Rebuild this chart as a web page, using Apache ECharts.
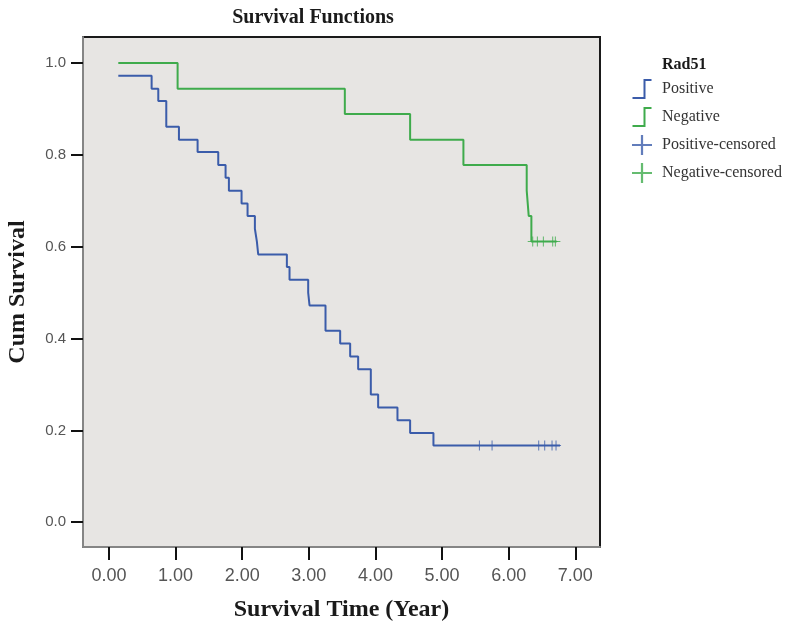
<!DOCTYPE html>
<html>
<head>
<meta charset="utf-8">
<script src="https://cdn.jsdelivr.net/npm/echarts@6/dist/echarts.min.js"></script>
<style>html,body{margin:0;padding:0;background:#fff}#c{width:800px;height:624px}</style>
</head>
<body>
<div id="c"></div>
<script>
// Positive (blue) Kaplan-Meier curve: event times (years) and survival after each
const posTimes = [0.14, 0.64, 0.74, 0.86, 1.05, 1.33, 1.64, 1.75, 1.80, 1.99, 2.08, 2.19, 2.22, 2.24, 2.67, 2.71, 2.99, 3.01, 3.25, 3.47, 3.62, 3.74, 3.93, 4.04, 4.33, 4.52, 4.87, 6.77];
const posSurv  = [0.972, 0.944, 0.917, 0.861, 0.833, 0.806, 0.778, 0.750, 0.722, 0.694, 0.667, 0.639, 0.611, 0.583, 0.556, 0.528, 0.500, 0.472, 0.417, 0.389, 0.361, 0.333, 0.278, 0.250, 0.222, 0.194, 0.167, 0.167];
const posCensorTimes = [5.56, 5.75, 6.45, 6.54, 6.65, 6.71];
const posCensorSurv  = [0.167, 0.167, 0.167, 0.167, 0.167, 0.167];

// Negative (green) curve
const negTimes = [0.14, 1.03, 3.54, 4.52, 5.32, 6.27, 6.30, 6.34, 6.72];
const negSurv  = [1.000, 0.944, 0.889, 0.833, 0.778, 0.722, 0.667, 0.611, 0.611];
const negCensorTimes = [6.36, 6.43, 6.52, 6.66, 6.70];
const negCensorSurv  = [0.611, 0.611, 0.611, 0.611, 0.611];

const xTicks = [0, 1, 2, 3, 4, 5, 6, 7];
const yTicks = [0, 0.2, 0.4, 0.6, 0.8, 1.0];

const seriesNames = ['Positive', 'Negative', 'Positive-censored', 'Negative-censored'];

const BLUE = '#3b5caa';
const GREEN = '#3fab4c';
const zip = (a, b) => a.map((v, i) => [v, b[i]]);

const stepIcon = 'path://M0,18 L11,18 L11,0 L19,0 L19,2 L13,2 L13,20 L0,20 Z';
const plusIcon = 'path://M8,0 L10,0 L10,8 L18,8 L18,10 L10,10 L10,18 L8,18 L8,10 L0,10 L0,8 L8,8 Z';
const plusMark = 'path://M9,0 L11,0 L11,9 L20,9 L20,11 L11,11 L11,20 L9,20 L9,11 L0,11 L0,9 L9,9 Z';

const chart = echarts.init(document.getElementById('c'), null, {renderer: 'canvas'});
chart.setOption({
  animation: false,
  backgroundColor: '#ffffff',
  title: [
    {text: 'Survival Functions', left: 308, top: 3, textAlign: 'center',
     textStyle: {fontFamily: 'Liberation Serif', fontWeight: 'bold', fontSize: 20, color: '#1a1a1a'}},
    {text: 'Rad51', left: 657, top: 52,
     textStyle: {fontFamily: 'Liberation Serif', fontWeight: 'bold', fontSize: 16, color: '#1a1a1a'}}
  ],
  legend: {
    orient: 'vertical', left: 627, top: 74,
    itemWidth: 20, itemHeight: 20, itemGap: 8,
    textStyle: {fontFamily: 'Liberation Serif', fontSize: 16, color: '#333', padding: [0, 0, 0, 5]},
    data: [
      {name: seriesNames[0], icon: stepIcon, itemStyle: {color: BLUE}},
      {name: seriesNames[1], icon: stepIcon, itemStyle: {color: GREEN}},
      {name: seriesNames[2], icon: plusIcon, itemStyle: {color: BLUE}},
      {name: seriesNames[3], icon: plusIcon, itemStyle: {color: GREEN}}
    ]
  },
  grid: {left: 83, right: 200, top: 37, bottom: 77, show: true, outerBoundsMode: 'none', containLabel: false,
         backgroundColor: '#e7e5e3', borderColor: '#1a1a1a', borderWidth: 2},
  xAxis: {
    type: 'value', min: -0.39, max: 7.37,
    name: 'Survival Time (Year)', nameLocation: 'middle', nameGap: 51,
    nameTextStyle: {fontFamily: 'Liberation Serif', fontWeight: 'bold', fontSize: 24, color: '#1a1a1a'},
    axisLine: {show: true, onZero: false, lineStyle: {color: '#858585', width: 2}},
    axisTick: {show: true, length: 13, customValues: xTicks, lineStyle: {color: '#111', width: 2}},
    axisLabel: {customValues: xTicks, margin: 20, fontFamily: 'Liberation Sans', fontSize: 18, color: '#555',
                formatter: v => v.toFixed(2)},
    splitLine: {show: false}
  },
  yAxis: {
    type: 'value', min: -0.054, max: 1.0566,
    name: 'Cum Survival', nameLocation: 'middle', nameGap: 53, nameRotate: 90,
    nameTextStyle: {fontFamily: 'Liberation Serif', fontWeight: 'bold', fontSize: 24, color: '#1a1a1a'},
    axisLine: {show: true, onZero: false, lineStyle: {color: '#858585', width: 2}},
    axisTick: {show: true, length: 12, customValues: yTicks, lineStyle: {color: '#111', width: 2}},
    axisLabel: {customValues: yTicks, margin: 17, fontFamily: 'Liberation Sans', fontSize: 15, color: '#555',
                formatter: v => v.toFixed(1)},
    splitLine: {show: false}
  },
  series: [
    {name: seriesNames[0], type: 'line', step: 'end', showSymbol: false, symbol: 'none',
     data: zip(posTimes, posSurv), lineStyle: {color: BLUE, width: 2}, itemStyle: {color: BLUE}},
    {name: seriesNames[1], type: 'line', step: 'end', showSymbol: false, symbol: 'none',
     data: zip(negTimes, negSurv), lineStyle: {color: GREEN, width: 2}, itemStyle: {color: GREEN}},
    {name: seriesNames[2], type: 'scatter', symbol: plusMark, symbolSize: 10,
     data: zip(posCensorTimes, posCensorSurv), itemStyle: {color: BLUE}, z: 3},
    {name: seriesNames[3], type: 'scatter', symbol: plusMark, symbolSize: 10,
     data: zip(negCensorTimes, negCensorSurv), itemStyle: {color: GREEN}, z: 3}
  ]
});
</script>
</body>
</html>
